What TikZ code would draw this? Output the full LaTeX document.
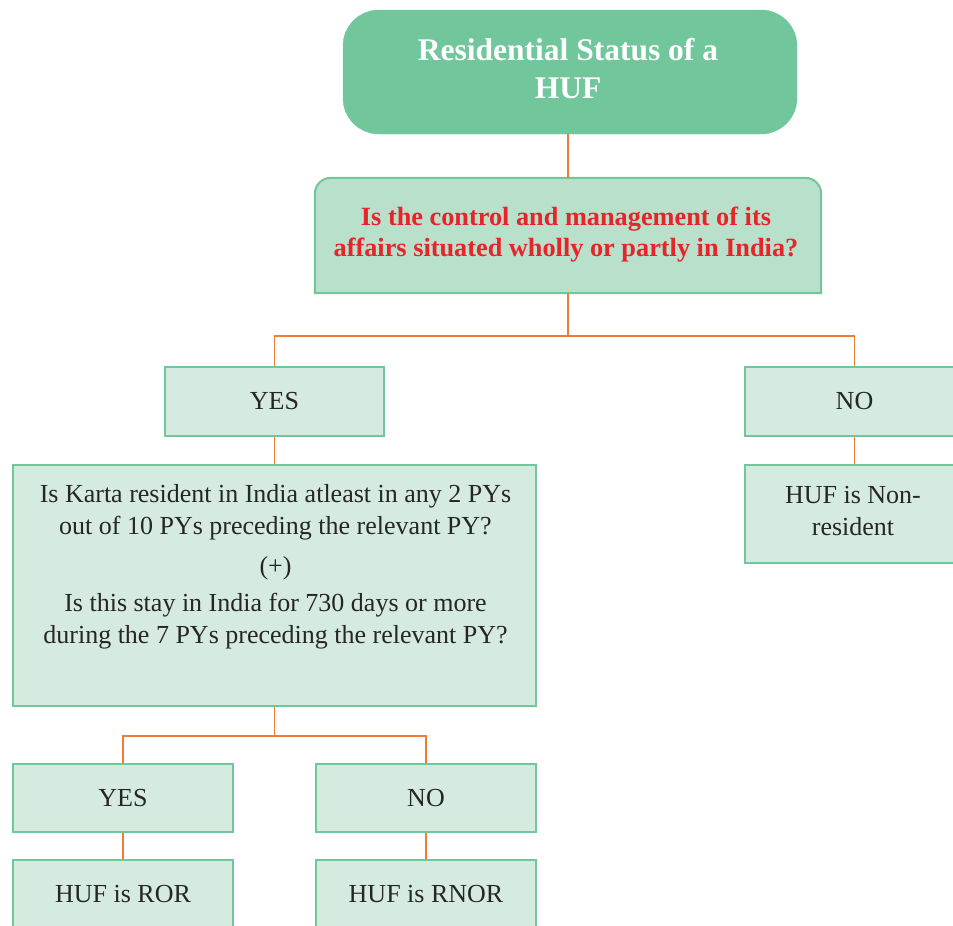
\documentclass[tikz,border=0pt]{standalone}
\usepackage{fontspec}
\setmainfont{Liberation Serif}
\definecolor{dgreen}{HTML}{72C69C}
\definecolor{qfill}{HTML}{B8E0CA}
\definecolor{lfill}{HTML}{D5EBDF}
\definecolor{bord}{HTML}{72C69C}
\definecolor{linkc}{HTML}{ED7D31}
\definecolor{qred}{HTML}{E8232A}
\begin{document}
\begin{tikzpicture}[x=1pt,y=-1pt,
  lbox/.style={draw=bord, fill=lfill, line width=2pt, inner sep=0pt, rectangle,
    font=\fontsize{26}{32}\selectfont, align=center, text=black!85},
  plain/.style={inner sep=0pt, align=center, text=black!85},
  link/.style={draw=linkc, line width=1.8pt}]
\useasboundingbox (0,0) rectangle (953,926);
\clip (0,0) rectangle (953,926);
% top
\node[draw=dgreen, fill=dgreen, rounded corners=36pt, minimum width=454pt, minimum height=124pt, inner sep=0pt] (top) at (570,72) {};
\node[plain, text=white, font=\bfseries\fontsize{31.5}{38}\selectfont] (toptext) at (568,69) {Residential Status of a\\HUF};
% question
\node[inner sep=0pt, minimum width=506pt, minimum height=115pt] (q) at (568,235.5) {};
\draw[draw=bord, fill=qfill, line width=2pt] (q.south west) [rounded corners=16pt] -- (q.north west) -- (q.north east) [sharp corners] -- (q.south east) -- cycle;
\node[plain, text=qred, font=\bfseries\fontsize{26.3}{31}\selectfont] (qtext) at (566,234.5) {Is the control and management of its\\affairs situated wholly or partly in India?};
% level 2
\node[lbox, minimum width=219pt, minimum height=69pt] (yes1) at (274.5,401.5) {YES};
\node[lbox, minimum width=219pt, minimum height=69pt] (no1) at (854.5,401.5) {NO};
\node[lbox, minimum width=219pt, minimum height=98pt] (nonres) at (854.5,514) {};
\node[plain, font=\fontsize{26}{32}\selectfont] (nonrestext) at (853,511) {HUF is Non-\\resident};
% big question
\node[lbox, minimum width=523pt, minimum height=241pt] (big) at (274.5,585.5) {};
\node[plain, font=\fontsize{26}{32}\selectfont] (bigtext) at (275.5,566.5) {Is Karta resident in India atleast in any 2 PYs\\out of 10 PYs preceding the relevant PY?\\[8pt](+)\\[5pt]Is this stay in India for 730 days or more\\during the 7 PYs preceding the relevant PY?};
% level 4
\node[lbox, minimum width=220pt, minimum height=68pt] (yes2) at (123,798) {YES};
\node[lbox, minimum width=220pt, minimum height=68pt] (no2) at (426,798) {NO};
\node[lbox, minimum width=220pt, minimum height=68pt] (ror) at (123,894) {HUF is ROR};
\node[lbox, minimum width=220pt, minimum height=68pt] (rnor) at (426,894) {HUF is RNOR};
% connectors
\draw[link] (q.north) -- (q.north |- top.south);
\draw[link] (q.south) -- ++(0,43) -| (yes1.north);
\draw[link] (q.south) -- ++(0,43) -| (no1.north);
\draw[link] (no1.south) -- (nonres.north);
\draw[link] (yes1.south) -- (big.north);
\draw[link] (big.south) -- ++(0,29) -| (yes2.north);
\draw[link] (big.south) -- ++(0,29) -| (no2.north);
\draw[link] (yes2.south) -- (ror.north);
\draw[link] (no2.south) -- (rnor.north);
\end{tikzpicture}
\end{document}
